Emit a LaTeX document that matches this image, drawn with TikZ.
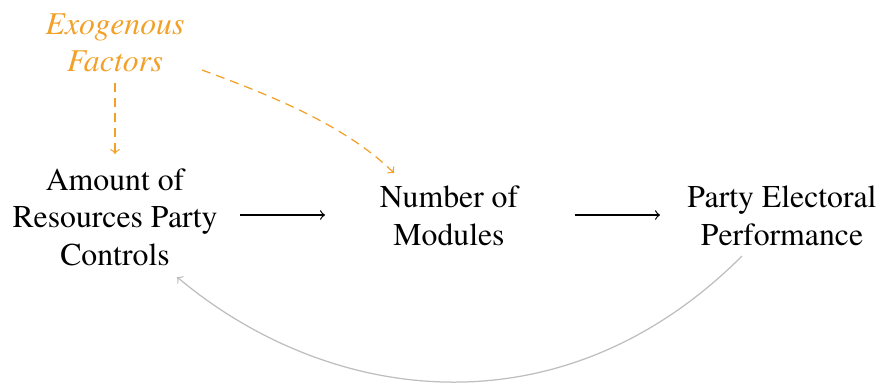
\documentclass[tikz,border=0pt]{standalone}
\usepackage[T1]{fontenc}
\usepackage{times}
\definecolor{exo}{RGB}{242,160,40}
\definecolor{fb}{RGB}{190,190,190}
\begin{document}
\begin{tikzpicture}[x=0.4pt,y=-0.4pt,
  lbl/.style={align=center,font=\fontsize{12.7}{15}\selectfont,inner sep=0pt},
  exolbl/.style={lbl,text=exo,font=\fontsize{12.7}{15}\selectfont\itshape},
  mainarrow/.style={->,black,line width=0.5pt},
  exoarrow/.style={->,exo,dash pattern=on 3.6pt off 2.4pt,line width=0.5pt},
  fbarrow/.style={->,fb,line width=0.5pt}]
\useasboundingbox (0,0) rectangle (880,383);
\node[exolbl] (exo) at (115,43) {Exogenous\\Factors};
\node[lbl] (amt) at (115,217) {Amount of\\Resources Party\\Controls};
\node[lbl] (num) at (449,216) {Number of\\Modules};
\node[lbl] (perf) at (782,216) {Party Electoral\\Performance};
\coordinate (a1) at (240,215); \coordinate (a2) at (325,215);
\coordinate (b1) at (575,215); \coordinate (b2) at (660,215);
\draw[mainarrow] (a1) -- (a2);
\draw[mainarrow] (b1) -- (b2);
\coordinate (e1) at (115,83); \coordinate (e2) at (115,154);
\draw[exoarrow] (e1) -- (e2);
\coordinate (c1) at (202,70); \coordinate (c2) at (394,173);
\draw[exoarrow] (c1) .. controls (270,95) and (345,125) .. (c2);
\coordinate (f1) at (742,256); \coordinate (f2) at (177,277);
\draw[fbarrow] (f1) .. controls (563,435) and (331,406) .. (f2);
\end{tikzpicture}
\end{document}
